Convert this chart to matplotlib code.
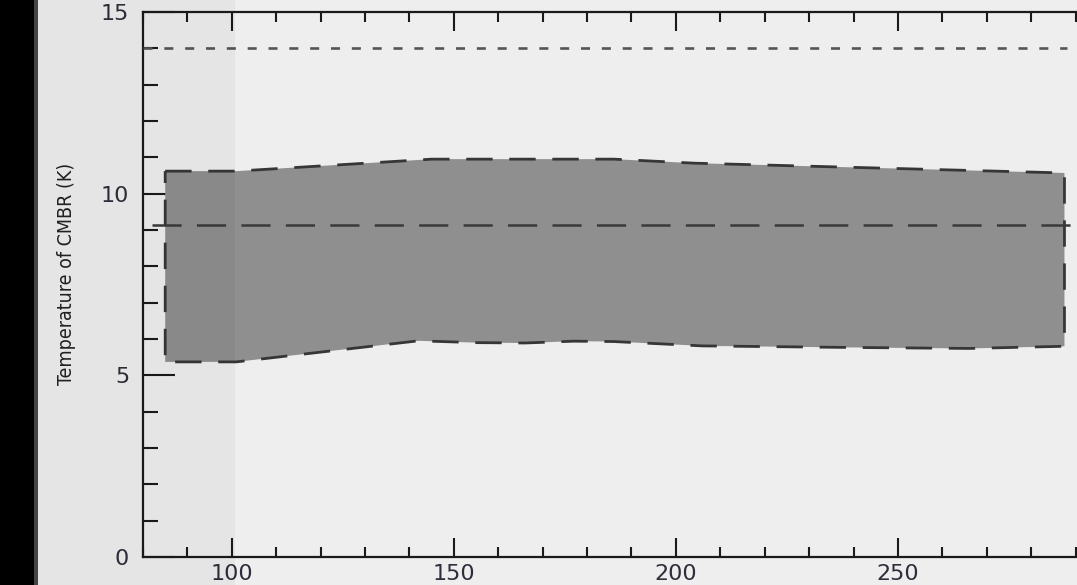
import matplotlib
matplotlib.use("Agg")
import matplotlib.pyplot as plt
from matplotlib.patches import Rectangle
from matplotlib.ticker import MultipleLocator

# data
upper_x = [85, 101, 145, 186, 204, 287.5]
upper_t = [10.62, 10.62, 10.95, 10.95, 10.84, 10.57]
lower_x = [85, 101, 142, 155, 166, 177, 186, 206, 237, 266, 287.5]
lower_t = [5.37, 5.37, 5.95, 5.90, 5.89, 5.94, 5.93, 5.81, 5.77, 5.74, 5.80]
mid_x = [82, 291]
mid_t = [9.14, 9.14]
top_x = [80, 288]
top_t = [14.0, 14.0]
xticks = [100, 150, 200, 250]
yticks = [0, 5, 10, 15]

plt.rcParams['lines.scale_dashes'] = False

W, H = 1077, 585
fig = plt.figure(figsize=(W / 100, H / 100), dpi=100)
fig.patch.set_facecolor('#eeeeee')

# axes: left spine at px 143, bottom at 557, top at 12, runs off the right edge
ax = fig.add_axes([143 / W, (H - 557) / H, (1080 - 143) / W, 545 / H])
ax.set_facecolor('none')
ax.set_xlim(80, 291)
ax.set_ylim(0, 15)

# shaded band with dashed outline
poly_x = upper_x + lower_x[::-1]
poly_t = upper_t + lower_t[::-1]
ax.fill(poly_x, poly_t, facecolor='#8f8f8f', edgecolor='#363636',
        linewidth=2.0, linestyle=(0, (19, 12)), zorder=2)

ax.plot(mid_x, mid_t, color='#3a3a3a', linewidth=1.8,
        linestyle=(0, (21, 11)), zorder=3)
ax.plot(top_x, top_t, color='#555555', linewidth=1.9,
        linestyle=(0, (6.5, 8.5)), zorder=3)

ax.spines['right'].set_visible(False)
for s in ['left', 'bottom', 'top']:
    ax.spines[s].set_linewidth(1.6)
    ax.spines[s].set_color('#1a1a1a')

ax.set_xticks(xticks)
ax.set_yticks(yticks)
ax.xaxis.set_minor_locator(MultipleLocator(10))
ax.yaxis.set_minor_locator(MultipleLocator(1))
ax.tick_params(axis='x', which='major', direction='in', length=13.5, width=1.5,
               top=True, pad=5, labelsize=16, labelcolor='#2e2e3a', color='#1a1a1a')
ax.tick_params(axis='x', which='minor', direction='in', length=7, width=1.5,
               top=True, color='#1a1a1a')
ax.tick_params(axis='y', which='major', direction='in', length=23, width=1.5,
               pad=10, labelsize=16, labelcolor='#2e2e3a', color='#1a1a1a')
ax.tick_params(axis='y', which='minor', direction='in', length=11, width=1.5,
               color='#1a1a1a')

ax.set_ylabel('Temperature of CMBR (K)', fontsize=14, color='#222222',
              family='DejaVu Sans', fontstretch='condensed')
ax.yaxis.set_label_coords(-0.072, 0.52)

# darker strip on the left of the frame and the black border
fig.patches.append(Rectangle((38 / W, 0), (235 - 38) / W, 1, transform=fig.transFigure,
                             facecolor='black', alpha=0.035, zorder=10))
fig.patches.append(Rectangle((0, 0), 34 / W, 1, transform=fig.transFigure,
                             facecolor='black', zorder=11))
fig.patches.append(Rectangle((34 / W, 0), 4 / W, 1, transform=fig.transFigure,
                             facecolor='#444444', zorder=11))

fig.savefig('out.png', dpi=100, facecolor=fig.get_facecolor())
